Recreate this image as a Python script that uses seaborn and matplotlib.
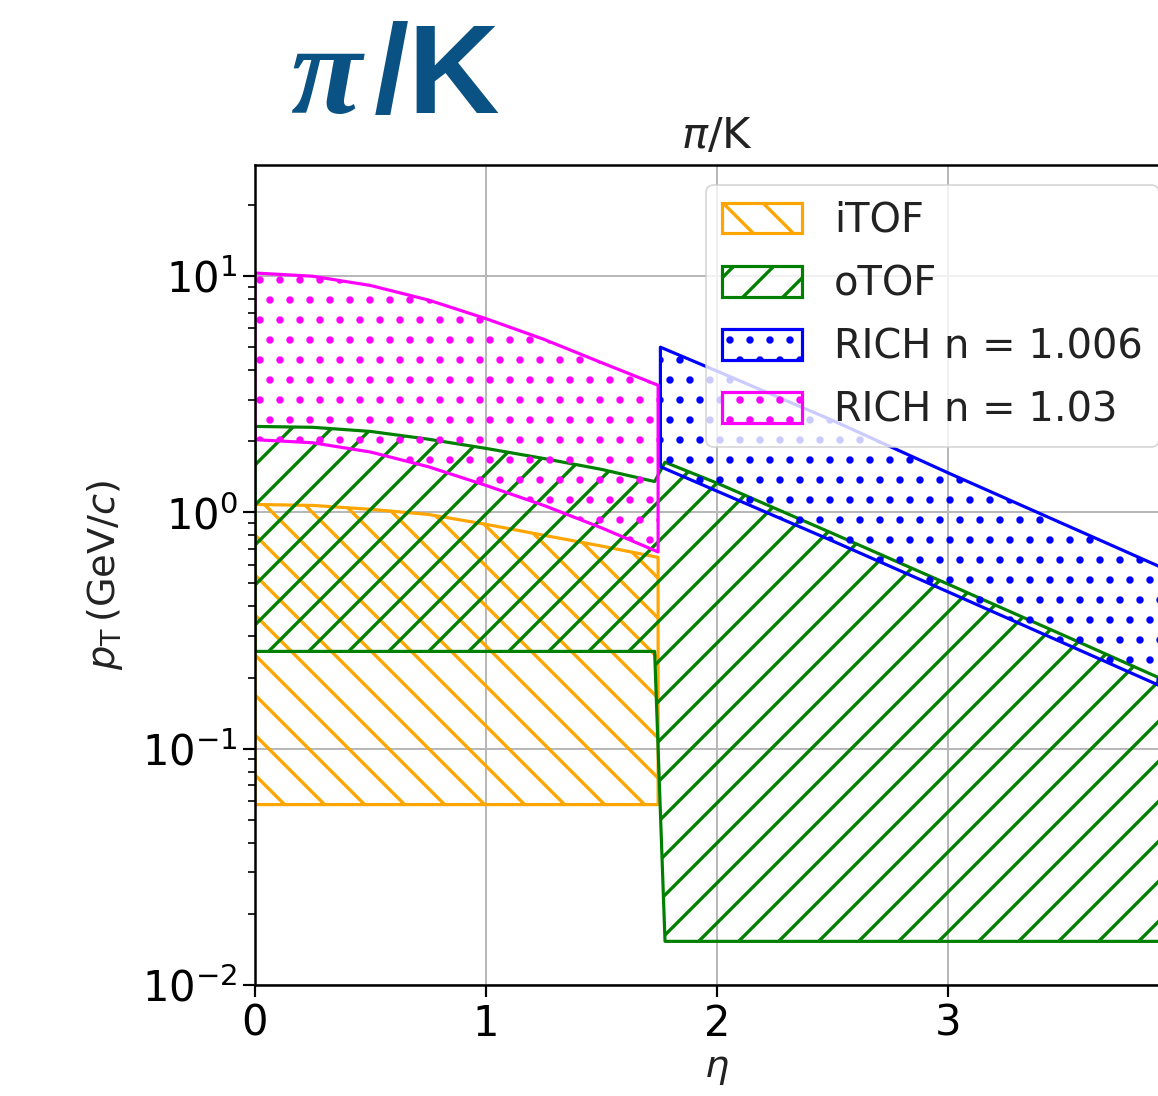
import matplotlib
matplotlib.use("Agg")
import matplotlib.pyplot as plt
import seaborn as sns

# Pseudorapidity grids for each detector acceptance band
eta_barrel = [0.0, 0.25, 0.5, 0.75, 1.0, 1.25, 1.5, 1.745]
eta_otof = [0.0, 0.25, 0.5, 0.75, 1.0, 1.25, 1.5, 1.73, 1.775, 2.0, 2.5, 3.0, 3.5, 4.0]
eta_forward = [1.755, 2.0, 2.5, 3.0, 3.5, 4.0]

# pi/K separation limits in pT (GeV/c)
itof_low = [0.058, 0.058, 0.058, 0.058, 0.058, 0.058, 0.058, 0.058]
itof_high = [1.08, 1.07, 1.03, 0.98, 0.89, 0.80, 0.72, 0.645]

otof_low = [0.258, 0.258, 0.258, 0.258, 0.258, 0.258, 0.258, 0.258,
            0.0153, 0.0153, 0.0153, 0.0153, 0.0153, 0.0153]
otof_high = [2.31, 2.29, 2.20, 2.04, 1.865, 1.69, 1.52, 1.35,
             1.63, 1.33, 0.815, 0.497, 0.302, 0.183]

rich1006_low = [1.56, 1.23, 0.757, 0.461, 0.280, 0.170]
rich1006_high = [5.0, 3.96, 2.45, 1.47, 0.893, 0.542]

rich103_low = [2.03, 1.97, 1.80, 1.56, 1.30, 1.07, 0.86, 0.68]
rich103_high = [10.3, 9.98, 9.12, 7.92, 6.6, 5.4, 4.3, 3.45]

labels = ["iTOF", "oTOF", "RICH n = 1.006", "RICH n = 1.03"]
colors = ["orange", "green", "blue", "magenta"]
hatches = ["\\", "/", ".", "."]
eta_ticks = [0, 1, 2, 3]

DPI = 120
sns.set_theme(style="ticks", rc={
    "axes.grid": True,
    "grid.color": "#b8b8b8",
    "grid.linewidth": 1.2,
    "axes.edgecolor": "black",
    "axes.linewidth": 1.5,
    "xtick.color": "black",
    "ytick.color": "black",
    "xtick.major.size": 7,
    "ytick.major.size": 7,
    "ytick.minor.size": 4,
    "xtick.major.width": 1.3,
    "ytick.major.width": 1.3,
    "ytick.minor.width": 1.0,
    "xtick.labelsize": 25,
    "ytick.labelsize": 25,
    "axes.labelsize": 23,
    "hatch.linewidth": 2.0,
    "text.color": "#222222",
    "axes.labelcolor": "#222222",
})
plt.rcParams["font.family"] = ["DejaVu Sans"]
plt.rcParams["mathtext.fontset"] = "dejavusans"

fig = plt.figure(figsize=(1158 / DPI, 1096 / DPI), dpi=DPI)
ax = fig.add_axes([255 / 1158, 111 / 1096, 924 / 1158, 820 / 1096])

bands = [
    (eta_barrel, itof_low, itof_high),
    (eta_otof, otof_low, otof_high),
    (eta_forward, rich1006_low, rich1006_high),
    (eta_barrel, rich103_low, rich103_high),
]
for (x, lo, hi), lab, col, hat in zip(bands, labels, colors, hatches):
    ax.fill_between(x, lo, hi, facecolor="none", edgecolor=col,
                    hatch=hat, linewidth=1.9, label=lab)

ax.set_yscale("log")
ax.set_xlim(0, 4)
ax.set_ylim(0.01, 29.5)
ax.set_xticks(eta_ticks)
ax.grid(True, which="major")
ax.grid(False, which="minor")
ax.set_xlabel(r"$\eta$", labelpad=4)
ax.set_ylabel(r"$p_{\mathrm{T}}\,(\mathrm{GeV}/c)$", labelpad=10)
ax.set_title(r"$\pi$/K", fontsize=26, pad=10)

leg = ax.legend(loc="upper right", fontsize=24, framealpha=0.8,
                edgecolor="0.8", fancybox=True, handlelength=2.0,
                handleheight=0.8, labelspacing=0.58, borderaxespad=0.5)

# Slide heading above the plot
heading = "#0a5283"
fig.text(290 / 1158, 1 - 113 / 1096, "π", fontsize=78, color=heading,
         family="Liberation Serif", style="italic", fontweight="bold",
         va="baseline", ha="left")
fig.text(374 / 1158, 1 - 113 / 1096, "/K", fontsize=76, color=heading,
         family="Liberation Sans", fontweight="bold",
         va="baseline", ha="left")

fig.savefig("out.png", dpi=DPI)
